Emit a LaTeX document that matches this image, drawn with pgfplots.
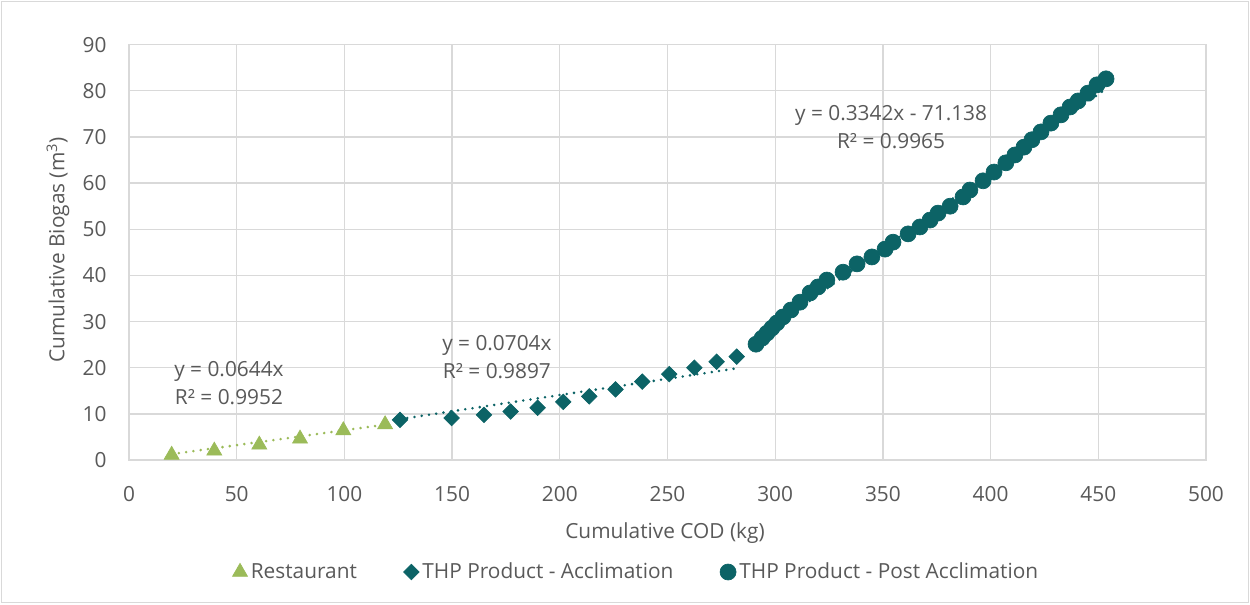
\documentclass[border=0pt]{standalone}
\usepackage{fontspec}
\setmainfont{Open Sans}
\usepackage{pgfplots}
\pgfplotsset{compat=1.18}
\definecolor{grn}{RGB}{155,187,89}
\definecolor{teal}{RGB}{12,99,102}
\definecolor{txt}{RGB}{89,89,89}
\definecolor{grd}{RGB}{217,217,217}
\begin{document}
\begin{tikzpicture}[font=\fontsize{12.5}{16.8}\selectfont]
\useasboundingbox (-77.4pt,-86.4pt) rectangle (672.6pt,276pt);
\draw[grd, line width=0.6pt] (-76.5pt,-85.5pt) rectangle (671.7pt,275.1pt);
\begin{axis}[
  at={(0,0)}, anchor=south west,
  scale only axis, width=646.2pt, height=249.2pt,
  xmin=0, xmax=500, ymin=0, ymax=90,
  xtick={0,50,...,500}, ytick={0,10,...,90},
  grid=major, grid style={grd, line width=0.8pt},
  axis line style={grd, line width=0.8pt},
  major tick length=0pt,
  tick label style={txt},
  /pgf/number format/assume math mode=true,
  xticklabel style={yshift=-12pt},
  yticklabel style={xshift=-10pt},
  xlabel={Cumulative COD (kg)},
  ylabel={Cumulative Biogas (m\textsuperscript{3})},
  label style={txt},
  xlabel style={at={(axis description cs:0.4977,-0.176)}, anchor=center},
  ylabel style={at={(axis description cs:-0.066,0.5057)}, anchor=center, rotate=0},
  legend style={at={(axis description cs:0.4717,-0.2697)}, anchor=center, draw=none, fill=none, legend columns=3, text=txt, /tikz/every even column/.append style={column sep=26pt}},
  legend cell align=left,
]
% trendlines
\addplot[grn, line width=1.7pt, dash pattern=on 0pt off 4.4pt, line cap=round, forget plot] coordinates {(19.8,1.275) (118.9,7.657)};
\addplot[teal, line width=1.7pt, dash pattern=on 0pt off 4.4pt, line cap=round, forget plot] coordinates {(125.8,8.856) (282.1,19.86)};
\addplot[teal, line width=1.7pt, dash pattern=on 0pt off 4.4pt, line cap=round, forget plot] coordinates {(291.1,26.15) (453.6,80.45)};
% data
\addplot[only marks, mark=triangle*, mark size=5.2pt, color=grn] coordinates {
(19.8,1.1) (39.6,2.0) (60.5,3.3) (79.4,4.6) (99.5,6.4) (118.9,7.7)};
\addlegendentry{Restaurant}
\addplot[only marks, mark=square*, mark size=3.3pt, mark options={rotate=45}, color=teal] coordinates {
(125.8,8.7) (149.8,9.1) (164.8,9.8) (177.2,10.5) (189.7,11.3) (201.6,12.6) (213.7,13.8) (225.9,15.3) (238.3,17.0) (250.8,18.6) (262.5,20.0) (272.8,21.3) (282.1,22.4)};
\addlegendentry{THP Product - Acclimation}
\addplot[only marks, mark=*, mark size=4.8pt, color=teal] coordinates {
(291.1,25.1) (293.9,26.4) (296.2,27.5) (298.5,28.6) (300.8,29.7) (303.6,31.0) (307.3,32.5) (311.5,34.2) (316.2,36.2) (319.9,37.5) (324.0,39.0) (331.5,40.7) (338.0,42.5) (344.9,44.0) (351.0,45.7) (354.7,47.2) (361.7,49.0) (367.2,50.5) (371.9,52.0) (375.6,53.5) (381.2,55.0) (387.2,57.0) (390.4,58.5) (396.5,60.5) (401.6,62.4) (407.1,64.4) (411.3,66.1) (415.5,67.8) (419.2,69.4) (423.4,71.1) (428.0,73.0) (432.7,74.8) (436.9,76.5) (440.6,77.8) (445.2,79.5) (449.4,81.3) (453.6,82.6)};
\addlegendentry{THP Product - Post Acclimation}
\node[txt, align=center] at (axis cs:46.4,16.7) {y = 0.0644x\\R² = 0.9952};
\node[txt, align=center] at (axis cs:170.8,22.3) {y = 0.0704x\\R² = 0.9897};
\node[txt, align=center] at (axis cs:353.8,72.2) {y = 0.3342x - 71.138\\R² = 0.9965};
\end{axis}
\end{tikzpicture}
\end{document}
